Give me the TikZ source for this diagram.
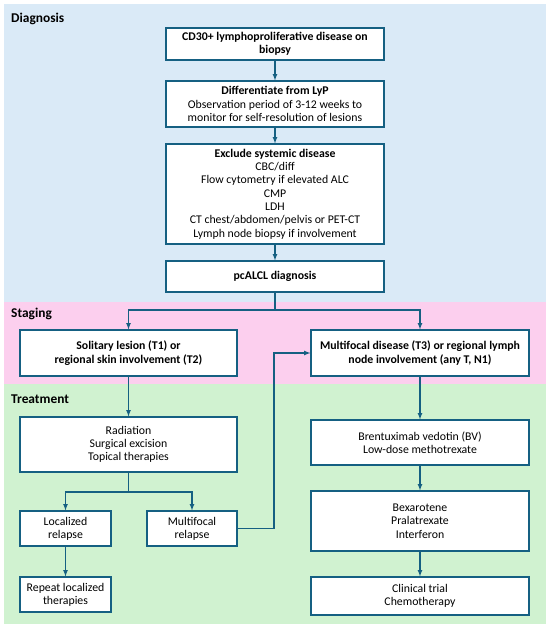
\documentclass[tikz,border=0pt]{standalone}
\usepackage{fontspec}
\setmainfont{Carlito}
\usetikzlibrary{positioning}
\usetikzlibrary{arrows.meta}
\definecolor{boxline}{HTML}{156082}
\definecolor{diagbg}{HTML}{DAEAF7}
\definecolor{stagebg}{HTML}{FCCFEE}
\definecolor{treatbg}{HTML}{D0F2D0}
\tikzset{
    mybox/.style = {rectangle, draw=boxline, line width=1.2pt, fill=white, align=center, inner sep=0pt, font=\fontsize{11.8}{13.3}\selectfont},
    myboxb/.style = {mybox, font=\fontsize{11.8}{13.3}\selectfont\bfseries},
    panel/.style = {anchor=west, inner sep=0pt, font=\fontsize{13.4}{15}\selectfont\bfseries},
    edgen/.style = {-latex, line width=1.2pt, draw=boxline},
}
\begin{document}
\begin{tikzpicture}[x=1pt,y=-1pt]
%
\fill[white] (0,0) rectangle (550,629);
\useasboundingbox (0,0) rectangle (550,629);
\fill[diagbg] (3.5,3.5) rectangle (546,302);
\fill[stagebg] (3.5,302) rectangle (546,384);
\fill[treatbg] (3.5,384) rectangle (546,624);
\node[panel] at (11,19) (pdx) {Diagnosis};
\node[panel] at (11,314) (pst) {Staging};
\node[panel] at (11,399) (ptr) {Treatment};
%
\node[myboxb, minimum width=218pt, minimum height=32pt] at (275,44) (cd) {CD30+ lymphoproliferative disease on\\biopsy};
\node[mybox, minimum width=218pt, minimum height=46pt] at (275,104) (lyp) {\textbf{Differentiate from LyP}\\Observation period of 3-12 weeks to\\monitor for self-resolution of lesions};
\node[mybox, minimum width=218pt, minimum height=100pt] at (275,194) (ex) {\textbf{Exclude systemic disease}\\CBC/diff\\Flow cytometry if elevated ALC\\CMP\\LDH\\CT chest/abdomen/pelvis or PET-CT\\Lymph node biopsy if involvement};
\node[myboxb, minimum width=218pt, minimum height=31pt] at (275,276.5) (dx) {pcALCL diagnosis};
%
\node[myboxb, minimum width=217pt, minimum height=46pt] at (128.5,353) (t12) {Solitary lesion (T1) or\\regional skin involvement (T2)};
\node[myboxb, minimum width=218pt, minimum height=46pt] at (420,353) (t3) {Multifocal disease (T3) or regional lymph\\node involvement (any T, N1)};
%
\node[mybox, minimum width=217pt, minimum height=55pt] at (128.5,444.5) (rad) {Radiation\\Surgical excision\\Topical therapies};
\node[mybox, minimum width=91pt, minimum height=35pt] at (65.5,528.5) (lr) {Localized\\relapse};
\node[mybox, minimum width=90pt, minimum height=35pt] at (192,528.5) (mr) {Multifocal\\relapse};
\node[mybox, minimum width=91pt, minimum height=35pt] at (65.5,594.5) (rep) {Repeat localized\\therapies};
\node[mybox, minimum width=218pt, minimum height=45pt] at (420,442.5) (bv) {Brentuximab vedotin (BV)\\Low-dose methotrexate};
\node[mybox, minimum width=218pt, minimum height=60pt] at (420,521) (bex) {Bexarotene\\Pralatrexate\\Interferon};
\node[mybox, minimum width=218pt, minimum height=38pt] at (420,596) (ct) {Clinical trial\\Chemotherapy};
%
\coordinate (split) at (275,310);
\coordinate (split2) at (128.5,492);
\coordinate (loop) at (274,528.5);
%
\draw[edgen] (cd) -- (lyp);
\draw[edgen] (lyp) -- (ex);
\draw[edgen] (ex) -- (dx);
\draw[edgen,-] (dx) -- (split);
\draw[edgen] (split) -| (t12);
\draw[edgen] (split) -| (t3);
\draw[edgen] (t12) -- (rad);
\draw[edgen,-] (rad) -- (split2);
\draw[edgen] (split2) -| (lr);
\draw[edgen] (split2) -| (mr);
\draw[edgen] (lr) -- (rep);
\draw[edgen] (mr) -- (loop) |- (t3);
\draw[edgen] (t3) -- (bv);
\draw[edgen] (bv) -- (bex);
\draw[edgen] (bex) -- (ct);

\end{tikzpicture}
\end{document}
